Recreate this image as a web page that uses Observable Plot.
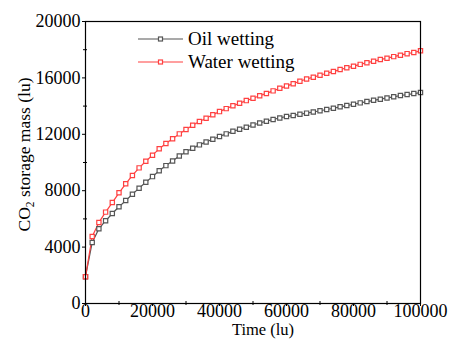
<!DOCTYPE html>
<html>
<head>
<meta charset="utf-8">
<script src="https://cdn.jsdelivr.net/npm/d3@7"></script>
<script src="https://cdn.jsdelivr.net/npm/@observablehq/plot@0.6"></script>
<style>
  html, body { margin: 0; padding: 0; background: #fff; }
  #wrap { position: relative; width: 452px; height: 346px; }
  #wrap svg text { font-family: "Liberation Serif", "Times New Roman", serif !important; }
  #legend { position: absolute; left: 138px; top: 27px; font-family: "Liberation Serif", "Times New Roman", serif; font-size: 19px; color: #000; }
  #legend .row { display: flex; align-items: center; height: 23.4px; white-space: nowrap; }
  #legend svg { display: block; margin-right: 4px; }
</style>
</head>
<body>
<div id="wrap"></div>
<script>
const time = [0, 2000, 4000, 6000, 8000, 10000, 12000, 14000, 16000, 18000,
  20000, 22000, 24000, 26000, 28000, 30000, 32000, 34000, 36000, 38000,
  40000, 42000, 44000, 46000, 48000, 50000, 52000, 54000, 56000, 58000,
  60000, 62000, 64000, 66000, 68000, 70000, 72000, 74000, 76000, 78000,
  80000, 82000, 84000, 86000, 88000, 90000, 92000, 94000, 96000, 98000, 100000];

const oilWetting = [1900, 4330, 5300, 5870, 6380, 6860, 7300, 7750, 8180, 8600,
  9000, 9420, 9780, 10100, 10460, 10760, 11010, 11250, 11460, 11650,
  11840, 12030, 12210, 12360, 12500, 12660, 12800, 12930, 13050, 13160,
  13260, 13340, 13420, 13500, 13580, 13670, 13760, 13850, 13950, 14040,
  14130, 14230, 14320, 14410, 14490, 14580, 14660, 14750, 14820, 14890, 14960];

const waterWetting = [1900, 4750, 5750, 6480, 7160, 7850, 8490, 9080, 9620, 10090,
  10520, 10970, 11350, 11680, 12030, 12340, 12640, 12910, 13140, 13390,
  13610, 13820, 14020, 14200, 14390, 14560, 14730, 14900, 15080, 15260,
  15420, 15590, 15760, 15920, 16050, 16190, 16330, 16450, 16590, 16720,
  16830, 16960, 17080, 17180, 17300, 17400, 17510, 17610, 17720, 17800, 17920];

const seriesNames = ["Oil wetting", "Water wetting"];
const seriesColors = ["#555555", "#ff4040"];

const xTicks = [0, 20000, 40000, 60000, 80000, 100000];
const xMinorTicks = [10000, 30000, 50000, 70000, 90000];
const yTicks = [0, 4000, 8000, 12000, 16000, 20000];
const yMinorTicks = [2000, 6000, 10000, 14000, 18000];

const xTitle = "Time (lu)";
const yTitle = "CO2 storage mass (lu)";

const oil = time.map((t, i) => ({time: t, value: oilWetting[i]}));
const water = time.map((t, i) => ({time: t, value: waterWetting[i]}));

const font = '"Liberation Serif", "Times New Roman", serif';

const chart = Plot.plot({
  width: 452,
  height: 346,
  marginLeft: 85,
  marginRight: 32,
  marginTop: 21,
  marginBottom: 43,
  style: {fontFamily: font, fontSize: "18px", color: "#000", background: "#fff"},
  x: {domain: [0, 100000]},
  y: {domain: [0, 20000]},
  marks: [
    Plot.axisX({ticks: xTicks, tickSize: 3, tickPadding: -2, tickFormat: d => String(d), label: null, fontSize: 18, fontFamily: font, fontWeight: "normal"}),
    Plot.axisX({ticks: xMinorTicks, tickSize: 4, dy: -2, tickFormat: () => "", label: null}),
    Plot.axisY({ticks: yTicks, tickSize: 3, tickPadding: 2, tickFormat: d => String(d), label: null, fontSize: 18, fontFamily: font, fontWeight: "normal"}),
    Plot.axisY({ticks: yMinorTicks, tickSize: 4, dx: 2, tickFormat: () => "", label: null}),
    Plot.line(oil, {x: "time", y: "value", stroke: seriesColors[0], strokeWidth: 1.2}),
    Plot.line(water, {x: "time", y: "value", stroke: seriesColors[1], strokeWidth: 1.2}),
    Plot.dot(oil, {x: "time", y: "value", symbol: "square", r: 2.4, stroke: seriesColors[0], fill: "#fff", strokeWidth: 1.2}),
    Plot.dot(water, {x: "time", y: "value", symbol: "square", r: 2.4, stroke: seriesColors[1], fill: "#fff", strokeWidth: 1.2}),
    Plot.frame({stroke: "#000", strokeWidth: 1.2}),
    Plot.text([xTitle], {frameAnchor: "bottom", dy: 31, dx: 10, fontSize: 16.5, fill: "#000", fontFamily: font, fontWeight: "normal"}),
    Plot.text([yTitle], {frameAnchor: "left", rotate: -90, textAnchor: "middle", dx: -61, dy: -8, fontSize: 17.5, fill: "#000", fontFamily: font, fontWeight: "normal"})
  ]
});

document.getElementById("wrap").appendChild(chart);

// subscript the "2" in CO2
d3.select(chart).selectAll("text").each(function () {
  if (this.textContent === yTitle) {
    const t = d3.select(this);
    t.text(null);
    t.append("tspan").text("CO");
    t.append("tspan").attr("font-size", "11.5px").attr("dy", "4").text("2");
    t.append("tspan").attr("dy", "-4").text(" storage mass (lu)");
  }
});

// legend
const legend = document.createElement("div");
legend.id = "legend";
seriesNames.forEach((name, i) => {
  const row = document.createElement("div");
  row.className = "row";
  row.innerHTML = `<svg width="46" height="10"><line x1="0" x2="45" y1="5" y2="5" stroke="${seriesColors[i]}" stroke-width="1.2"/><rect x="20.5" y="3" width="4" height="4" fill="#fff" stroke="${seriesColors[i]}" stroke-width="1.2"/></svg><span>${name}</span>`;
  legend.appendChild(row);
});
document.getElementById("wrap").appendChild(legend);
</script>
</body>
</html>
